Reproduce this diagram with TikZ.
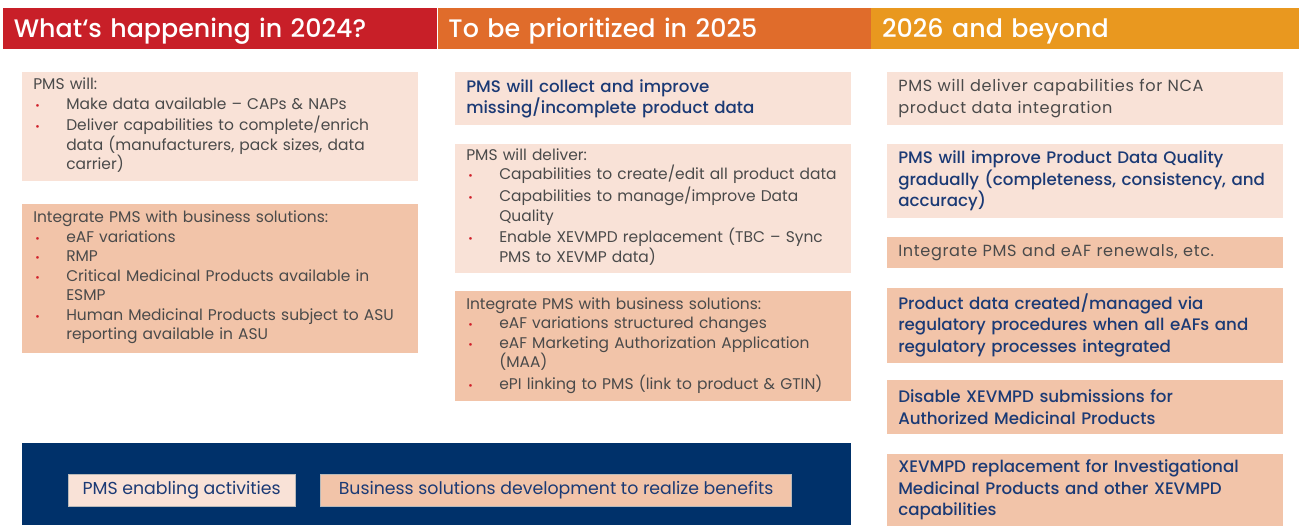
\documentclass[tikz,border=0pt]{standalone}
\usepackage{fontspec}
\setmainfont{Poppins}
\newfontfamily\mediumfont{Poppins Medium}
\usepackage{tikz}
\usetikzlibrary{positioning}

\definecolor{headred}{HTML}{C81F28}
\definecolor{headorange}{HTML}{E06C2B}
\definecolor{headamber}{HTML}{E9981F}
\definecolor{peachlight}{HTML}{F9E2D7}
\definecolor{peachdark}{HTML}{F2C4A9}
\definecolor{navyblue}{HTML}{00316A}
\definecolor{textgray}{HTML}{4A4A4A}
\definecolor{textnavy}{HTML}{1B3A75}
\definecolor{bulletred}{HTML}{D0202A}

\tikzstyle{headbar} = [rectangle, anchor = north west, inner sep = 0pt, minimum height = 30.75pt, text height = 14pt, text depth = 0.5pt, align = left, text = white, font = \mediumfont\fontsize{19}{22}\selectfont]
\tikzstyle{panel} = [rectangle, anchor = north west, inner sep = 0pt, minimum width = 297pt, text width = 280.5pt, align = left, text = textgray, font = \fontsize{11.6}{14.6}\selectfont]
\tikzstyle{light} = [panel, fill = peachlight]
\tikzstyle{dark} = [panel, fill = peachdark]
\tikzstyle{strong} = [text = textnavy, font = \mediumfont\fontsize{12.5}{16.3}\selectfont]
\tikzstyle{wide} = [font = \fontsize{12.1}{16.3}\selectfont\addfontfeature{LetterSpace = 4}]
\tikzstyle{tag} = [rectangle, anchor = north west, inner sep = 0pt, minimum height = 24pt, draw = gray!55, line width = 0.3pt, text = textnavy, font = \fontsize{13}{15}\selectfont]

% bullet line, wrapped lines hang under the text
\newcommand{\pitem}[1]{\par\ifdim\prevdepth>\dp\strutbox\prevdepth = \dp\strutbox\fi\noindent
	\makebox[24.75pt][l]{\hspace{1.5pt}\textcolor{bulletred}{\scalebox{0.7}{\textbullet}}}%
	\parbox[t]{255.75pt}{\raggedright #1\strut}}

\begin{document}
\begin{tikzpicture}[x = 0.75pt, y = -0.75pt]
	\useasboundingbox (0,0) rectangle (1299,525);

	% Year headers
	\node[headbar, fill = headred, minimum width = 325.5pt, text width = 309.5pt] (h24) at (3,8) {What‘s happening in 2024?};
	\node[headbar, fill = headorange, minimum width = 324.75pt, text width = 308.75pt, right = 0pt of h24] (h25) {To be prioritized in 2025};
	\node[headbar, fill = headamber, minimum width = 321.75pt, text width = 305.75pt, right = 0pt of h25] (h26) {2026 and beyond};

	% 2024
	\node[light, minimum height = 81.75pt] (will24) at (22,72) {PMS will:
		\pitem{Make data available – CAPs \& NAPs}
		\pitem{Deliver capabilities to complete/enrich\\data (manufacturers, pack sizes, data\\carrier)}};
	\node[dark, minimum height = 111.75pt, below = 16.5pt of will24] (int24) {Integrate PMS with business solutions:
		\pitem{eAF variations}
		\pitem{RMP}
		\pitem{Critical Medicinal Products available in\\ESMP}
		\pitem{Human Medicinal Products subject to ASU\\reporting available in ASU}};

	% 2025
	\node[light, strong, minimum height = 39.75pt] (collect25) at (455,72) {PMS will collect and improve\\missing/incomplete product data};
	\node[light, minimum height = 96.75pt, below = 13.5pt of collect25] (deliver25) {PMS will deliver:
		\pitem{Capabilities to create/edit all product data}
		\pitem{Capabilities to manage/improve Data\\Quality}
		\pitem{Enable XEVMPD replacement (TBC – Sync\\PMS to XEVMP data)}};
	\node[dark, minimum height = 82.5pt, below = 13.5pt of deliver25] (int25) {Integrate PMS with business solutions:
		\pitem{eAF variations structured changes}
		\pitem{eAF Marketing Authorization Application\\(MAA)}
		\pitem{ePI linking to PMS (link to product \& GTIN)}};

	% 2026 and beyond
	\node[light, wide, minimum height = 39.75pt] (nca26) at (887,72) {PMS will deliver capabilities for NCA\\product data integration};
	\node[light, strong, minimum height = 55.5pt, below = 13.5pt of nca26] (quality26) {PMS will improve Product Data Quality\\gradually (completeness, consistency, and\\accuracy)};
	\node[dark, wide, minimum height = 23.25pt, below = 14.25pt of quality26] (renew26) {Integrate PMS and eAF renewals, etc.};
	\node[dark, strong, minimum height = 56.25pt, below = 14.25pt of renew26] (proc26) {Product data created/managed via\\regulatory procedures when all eAFs and\\regulatory processes integrated};
	\node[dark, strong, minimum height = 40.5pt, below = 12.75pt of proc26] (disable26) {Disable XEVMPD submissions for\\Authorized Medicinal Products};
	\node[dark, strong, minimum height = 54pt, below = 14.25pt of disable26] (imp26) {XEVMPD replacement for Investigational\\Medicinal Products and other XEVMPD\\capabilities};

	% Legend bar
	\node[rectangle, anchor = north west, inner sep = 0pt, fill = navyblue, minimum width = 621.75pt, minimum height = 61.5pt] (bar) at (22,443) {};
	\node[tag, fill = peachlight, minimum width = 170.25pt] (enable) at (68,474) {PMS enabling activities};
	\node[tag, fill = peachdark, minimum width = 353.25pt, right = 18.75pt of enable] (benefit) {Business solutions development to realize benefits};

\end{tikzpicture}
\end{document}
